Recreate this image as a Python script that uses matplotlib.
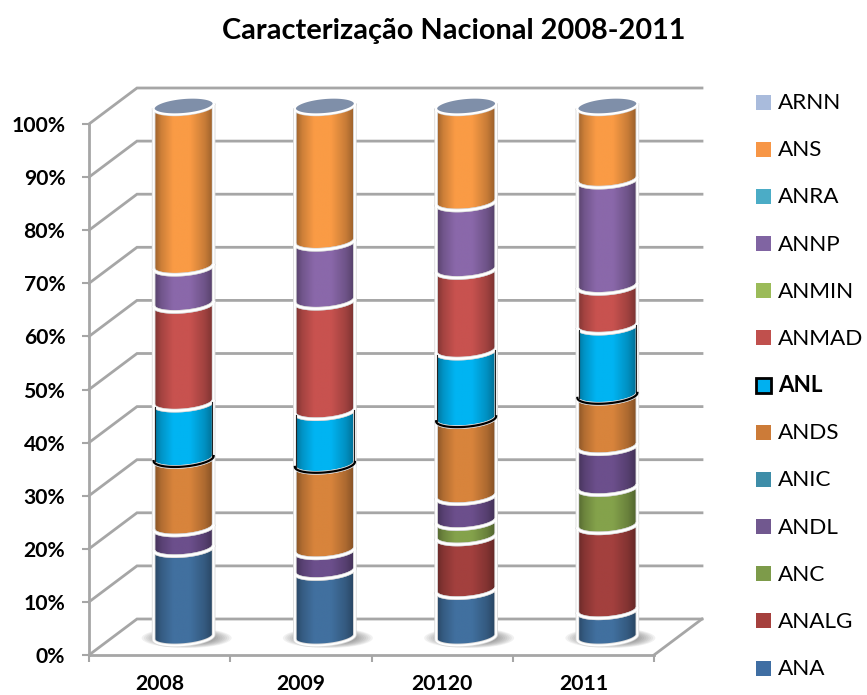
#!/usr/bin/env python3
# -*- coding: utf-8 -*-
"""Stacked cylinder chart, Caracterização Nacional 2008-2011."""

import numpy as np
import matplotlib
matplotlib.use("Agg")
import matplotlib.pyplot as plt
from matplotlib.patches import Ellipse, PathPatch, Rectangle
from matplotlib.path import Path

plt.rcParams["font.family"] = ["Lato", "DejaVu Sans"]

W, H = 867, 695
DPI = 100

# ============================================================
# Data (percent of total per year, bottom to top)
# ============================================================
years = ["2008", "2009", "20120", "2011"]
ana = [16.8, 12.5, 8.9, 5.1]
analg = [0, 0, 10.1, 16.0]
anc = [0, 0, 2.9, 7.2]
andl = [3.9, 3.9, 4.7, 7.7]
anic = [0, 0, 0, 0]
ands = [12.9, 16.1, 14.5, 9.5]
anl = [10.6, 10.1, 12.9, 13.2]
anmad = [18.6, 20.8, 15.2, 7.5]
anmin = [0, 0, 0, 0]
annp = [7.0, 11.1, 12.7, 20.0]
anra = [0, 0, 0, 0]
ans = [30.2, 25.5, 18.1, 13.8]
arnn = [0, 0, 0, 0]

series = ["ANA", "ANALG", "ANC", "ANDL", "ANIC", "ANDS", "ANL",
          "ANMAD", "ANMIN", "ANNP", "ANRA", "ANS", "ARNN"]
values = [ana, analg, anc, andl, anic, ands, anl, anmad, anmin, annp, anra, ans, arnn]
bar_colors = ["#41709F", "#A3403E", "#84A24B", "#6C4F8C", "#3A8AA8", "#D8843C", "#00B4F2",
              "#C8524F", "#9BBB59", "#8A68AA", "#4BACC6", "#FA9B45", "#A9BBDC"]
legend_colors = ["#3F6EA3", "#A5403D", "#7D9B4A", "#71588F", "#3E8DA8", "#CC7B38", "#00B0F0",
                 "#C0504D", "#9BBB59", "#8064A2", "#4BACC6", "#F79646", "#A9BBDC"]

# axis geometry in pixels
AX_LEFT, AX_RIGHT, AX_BOTTOM, AX_TOP = 89, 654, 655, 124
PX_X = (AX_RIGHT - AX_LEFT) / 4
PX_Y = (AX_BOTTOM - AX_TOP) / 100
DEPTH_X = 48 / PX_X
DEPTH_Y = 36 / PX_Y
HALF_W = 30 / PX_X
ARC_H = 8 / PX_Y
TILT = 2.5 / PX_Y
GRID = "#A6A6A6"


def lower_arc(cx, v, reverse=False):
    """Front edge of the cylinder at height v."""
    t = np.linspace(np.pi, 2 * np.pi, 50)
    if reverse:
        t = t[::-1]
    x = cx + HALF_W * np.cos(t)
    y = v + DEPTH_Y / 2 + ARC_H * np.sin(t) + TILT * np.cos(t)
    return np.column_stack([x, y])


def segment_path(cx, v0, v1):
    pts = np.vstack([lower_arc(cx, v0), lower_arc(cx, v1, reverse=True)])
    return Path(np.vstack([pts, pts[:1]]))


def shade(color):
    """Horizontal light/dark ramp of one cylinder band."""
    rgb = np.array(matplotlib.colors.to_rgb(color))
    pos = [0.0, 0.12, 0.32, 0.6, 0.85, 1.0]
    amt = [0.62, 0.82, 1.0, 1.0, 0.8, 0.6]
    ramp = np.interp(np.linspace(0, 1, 128), pos, amt)
    return (ramp[:, None] * rgb)[None, :, :]


fig = plt.figure(figsize=(W / DPI, H / DPI), dpi=DPI)
ax = fig.add_axes([AX_LEFT / W, (H - AX_BOTTOM) / H, (AX_RIGHT - AX_LEFT) / W, (AX_BOTTOM - AX_TOP) / H])

# ------------------------------------------------------------
# Walls and floor
# ------------------------------------------------------------
for v in range(0, 101, 10):
    ax.plot([0, DEPTH_X, 4 + DEPTH_X], [v, v + DEPTH_Y, v + DEPTH_Y],
            color=GRID, lw=2.0, clip_on=False, zorder=1, solid_joinstyle="miter")
ax.plot([4, 4 + DEPTH_X], [0, DEPTH_Y], color=GRID, lw=2.0, clip_on=False, zorder=1)

# ------------------------------------------------------------
# Cylinders
# ------------------------------------------------------------
for i in range(len(years)):
    cx = i + 0.5 + DEPTH_X / 2
    base = DEPTH_Y / 2

    # soft base shadow
    for k in np.linspace(1.0, 0.55, 10):
        ax.add_patch(Ellipse((cx + 3 / PX_X, base - 1 / PX_Y), 2 * k * 45 / PX_X, 2 * k * 10 / PX_Y,
                             color="#404040", alpha=0.07, lw=0, zorder=2, clip_on=False))

    bottom = 0.0
    anl_span = None
    for name, vals, color in zip(series, values, bar_colors):
        v = vals[i]
        if v == 0:
            continue
        path = segment_path(cx, bottom, bottom + v)
        im = ax.imshow(shade(color), extent=[cx - HALF_W, cx + HALF_W, bottom - 5, bottom + v + 10],
                       aspect="auto", interpolation="bilinear", zorder=3)
        im.set_clip_path(path, transform=ax.transData)
        im.set_clip_box(fig.bbox)
        ax.add_patch(PathPatch(path, fc="none", ec="#D9D9D9", lw=2.6, zorder=3.1, clip_on=False))
        if name == "ANL":
            anl_span = (bottom, bottom + v)
        bottom += v

    # white rims, drawn after all bands so they sit on top
    bottom = 0.0
    for vals in values:
        v = vals[i]
        if v == 0:
            continue
        ax.add_patch(PathPatch(segment_path(cx, bottom, bottom + v), fc="none", ec="white",
                               lw=1.4, zorder=3.2, clip_on=False))
        bottom += v

    # ANL keeps a black lower edge and dark sides just inside the white rim
    arc = lower_arc(cx, anl_span[0])
    top_arc = lower_arc(cx, anl_span[1])
    ax.plot(arc[:, 0], arc[:, 1], color="black", lw=1.6, zorder=3.4, clip_on=False)
    inset = 1.2 / PX_X
    ax.plot([arc[0, 0] + inset, top_arc[0, 0] + inset], [arc[0, 1], top_arc[0, 1] - 0.4],
            color="#222222", lw=0.8, zorder=3.3, clip_on=False)
    ax.plot([arc[-1, 0] - inset, top_arc[-1, 0] - inset], [arc[-1, 1], top_arc[-1, 1] - 0.4],
            color="#222222", lw=0.8, zorder=3.3, clip_on=False)

    # top cap
    t = np.linspace(0, 2 * np.pi, 90)
    ex = cx + HALF_W * np.cos(t)
    ey = 100 + DEPTH_Y / 2 + ARC_H * np.sin(t) + TILT * np.cos(t)
    ax.fill(ex, ey, fc="#7F8FA9", ec="white", lw=1.5, zorder=3.5, clip_on=False)

# ------------------------------------------------------------
# Axes, ticks, labels
# ------------------------------------------------------------
ax.set_xlim(0, 4)
ax.set_ylim(0, 100)
ax.patch.set_visible(False)
for side in ["top", "right"]:
    ax.spines[side].set_visible(False)
for side in ["left", "bottom"]:
    ax.spines[side].set_color(GRID)
    ax.spines[side].set_linewidth(2.0)
    ax.spines[side].set_zorder(1.5)

ax.set_yticks(range(0, 101, 10))
ax.set_yticklabels([f"{v}%" for v in range(0, 101, 10)], fontsize=15.2, fontweight="bold")
ax.tick_params(axis="y", length=5, width=1.5, color=GRID, pad=12)
ax.set_xticks(range(5))
ax.set_xticklabels([])
ax.tick_params(axis="x", which="major", length=5, width=1.5, color=GRID)
ax.set_xticks(np.arange(len(years)) + 0.5, minor=True)
ax.set_xticklabels(years, minor=True, fontsize=15.2, fontweight="bold")
ax.tick_params(axis="x", which="minor", length=0, pad=14)

fig.text(454 / W, 1 - 31 / H, "Caracterização Nacional 2008-2011", ha="center", va="center",
         fontsize=20.8, fontweight="bold", color="black")

# ------------------------------------------------------------
# Legend
# ------------------------------------------------------------
for k, (name, color) in enumerate(zip(series, legend_colors)):
    ly = 668 - k * (668 - 102) / 12
    is_anl = name == "ANL"
    fig.add_artist(Rectangle((756 / W, 1 - (ly + 7.5) / H), 15 / W, 15 / H, transform=fig.transFigure,
                             fc=color, ec="black" if is_anl else "none", lw=2.0 if is_anl else 0))
    fig.text(778 / W, 1 - (ly + 1) / H, name, ha="left", va="center", fontsize=16.2,
             fontweight="bold" if is_anl else "normal", color="black")

fig.savefig("out.png", dpi=DPI)
